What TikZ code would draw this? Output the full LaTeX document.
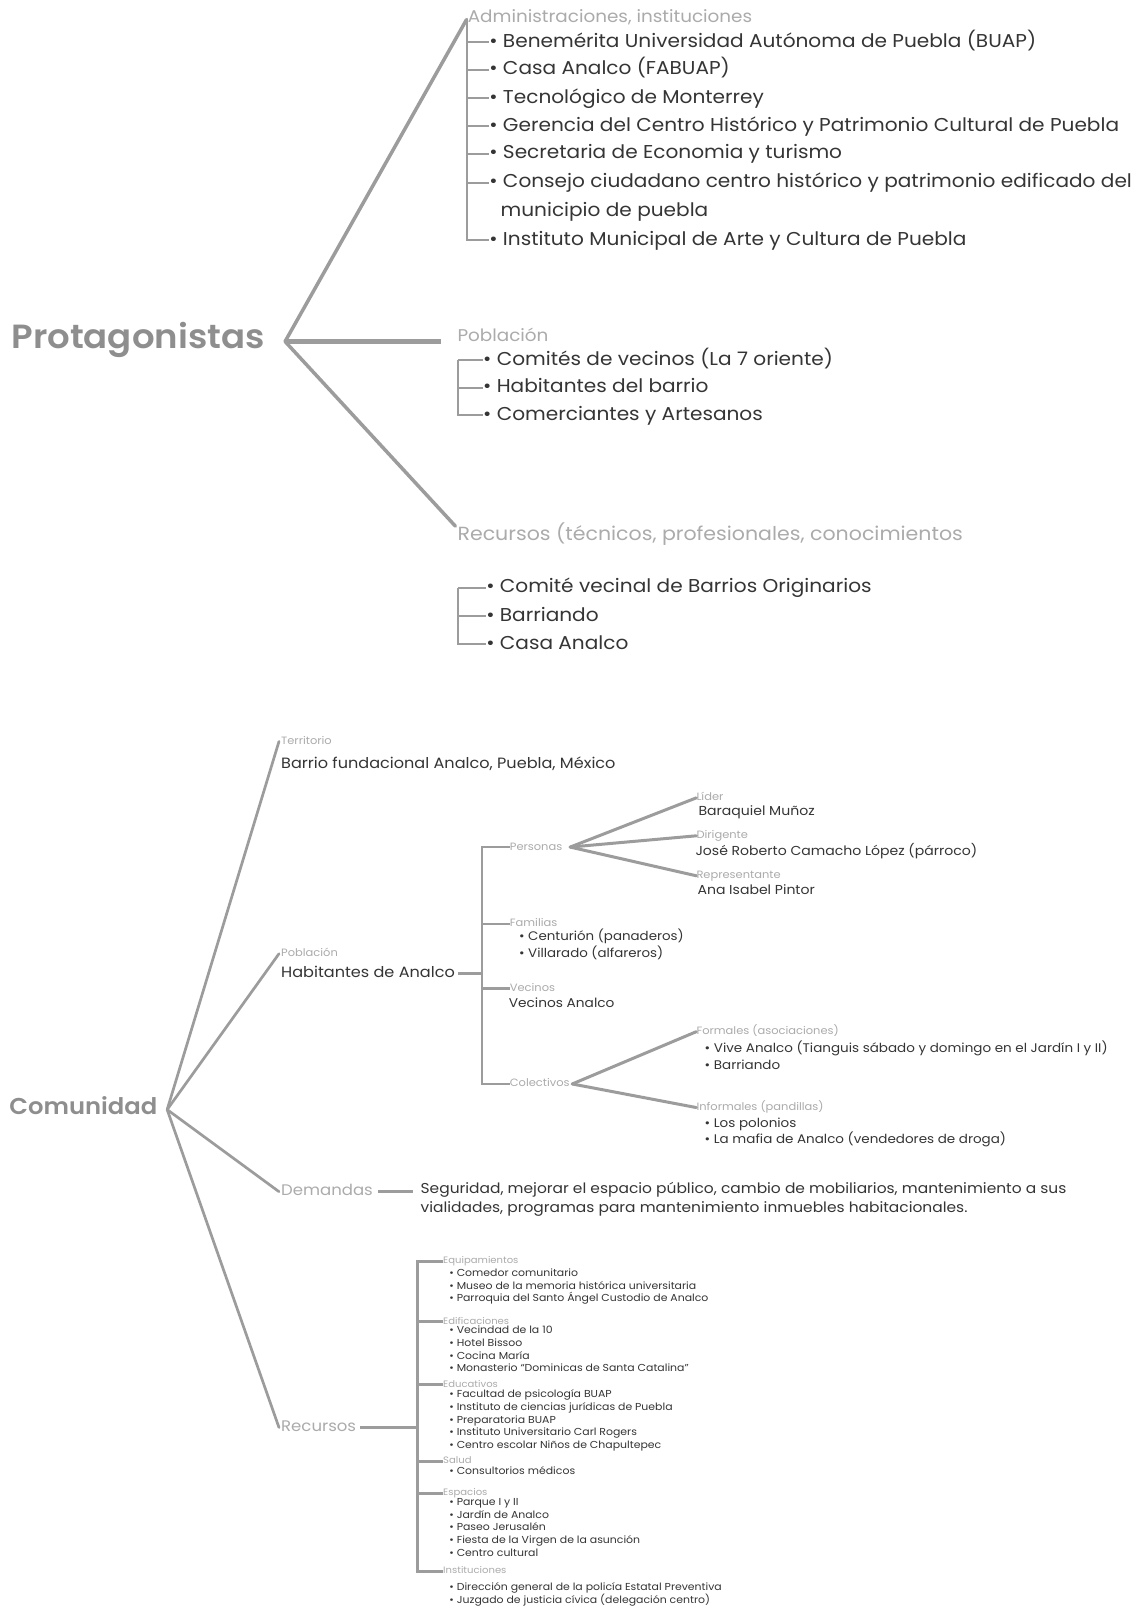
\documentclass[tikz,border=0pt]{standalone}
\usepackage{fontspec}
\setmainfont{Poppins}[FakeStretch=1.08]
\newfontfamily\titlefont{Poppins SemiBold}[FakeStretch=1.06]
\definecolor{itemc}{HTML}{353535}
\definecolor{labc}{HTML}{ABABAB}
\definecolor{titc}{HTML}{8E8E8E}
\definecolor{linec}{HTML}{9C9C9C}
\begin{document}
\begin{tikzpicture}[x=1.0253pt,y=-1.0253pt,
  base/.style={anchor=west,inner sep=0pt},
  ttl/.style={base,text=titc,font=\titlefont\fontsize{33.5}{38}\selectfont,text height=25pt,text depth=6.7pt},
  ttlB/.style={base,text=titc,font=\titlefont\fontsize{22.9}{27}\selectfont,text height=17pt,text depth=4.5pt},
  itemT/.style={base,text=itemc,font=\fontsize{18.6}{22}\selectfont,text height=14pt,text depth=3.7pt},
  labT/.style={base,text=labc,font=\fontsize{17}{20}\selectfont,text height=12.75pt,text depth=3.4pt},
  recT/.style={base,text=labc,font=\fontsize{19}{22}\selectfont,text height=14.25pt,text depth=3.8pt},
  midT/.style={base,text=itemc,font=\fontsize{14.9}{17}\selectfont,text height=11.1pt,text depth=3pt},
  nameT/.style={base,text=itemc,font=\fontsize{13}{15}\selectfont,text height=9.75pt,text depth=2.6pt},
  tinyL/.style={base,text=labc,font=\fontsize{10.6}{12}\selectfont,text height=7.95pt,text depth=2.1pt},
  subL/.style={base,text=labc,font=\fontsize{10.6}{12}\selectfont,text height=7.95pt,text depth=2.1pt},
  catL/.style={base,text=labc,font=\fontsize{9.3}{11}\selectfont,text height=7pt,text depth=1.9pt},
  sideL/.style={base,text=labc,font=\fontsize{15.3}{18}\selectfont,text height=11.5pt,text depth=3.1pt},
  listA/.style={anchor=north west,inner sep=0pt,align=left,text=itemc,font=\fontsize{12.4}{16.8}\selectfont},
  listB/.style={anchor=north west,inner sep=0pt,align=left,text=itemc,font=\fontsize{12.5}{16.4}\selectfont},
  listC/.style={anchor=north west,inner sep=0pt,align=left,text=itemc,font=\fontsize{10.1}{12.7}\selectfont},
  demT/.style={anchor=north west,inner sep=0pt,align=left,text=itemc,font=\fontsize{14.3}{18.5}\selectfont},
  bigline/.style={draw=linec,line width=3.5pt,line cap=round},
  popline/.style={draw=linec,line width=5pt},
  brk/.style={draw=linec,line width=2pt},
  comline/.style={draw=linec,line width=2.7pt,line cap=round},
  subline/.style={draw=linec,line width=3pt,line cap=round},
  brk2/.style={draw=linec,line width=2.6pt},
  brk3/.style={draw=linec,line width=3pt}
]
\useasboundingbox (0,0) rectangle (1107,1568);
\fill[white] (0,0) rectangle (1107,1568);

%================ PROTAGONISTAS =================
\node[ttl] (prot) at (11,331) {Protagonistas};
\coordinate (hubP) at (278,333);
\node[labT] (adm) at (456,17) {Administraciones, instituciones};
\coordinate (admc) at (455,19);
\node[itemT] (a1) at (477,41) {\textbullet\ Benemérita Universidad Autónoma de Puebla (BUAP)};
\node[itemT] (a2) at (477,68) {\textbullet\ Casa Analco (FABUAP)};
\node[itemT] (a3) at (477,96) {\textbullet\ Tecnológico de Monterrey};
\node[itemT] (a4) at (477,123) {\textbullet\ Gerencia del Centro Histórico y Patrimonio Cultural de Puebla};
\node[itemT] (a5) at (477,150) {\textbullet\ Secretaria de Economia y turismo};
\node[itemT] (a6) at (477,178) {\textbullet\ Consejo ciudadano centro histórico y patrimonio edificado del};
\node[itemT] (a6b) at (488,206) {municipio de puebla};
\node[itemT] (a7) at (477,234) {\textbullet\ Instituto Municipal de Arte y Cultura de Puebla};
\draw[bigline] (hubP) -- (admc);
\draw[brk] (admc) |- (a7.west);
\foreach \n in {a1,a2,a3,a4,a5,a6} \draw[brk] (admc |- \n.west) -- (\n.west);

\node[labT] (pobl) at (446,328) {Población};
\draw[popline] (hubP) -- ([xshift=-16pt]pobl.west |- hubP);
\coordinate (pbk) at (447,351);
\node[itemT] (p1) at (471,351) {\textbullet\ Comités de vecinos (La 7 oriente)};
\node[itemT] (p2) at (471,378) {\textbullet\ Habitantes del barrio};
\node[itemT] (p3) at (471,405) {\textbullet\ Comerciantes y Artesanos};
\draw[brk] (pbk) |- (p3.west);
\foreach \n in {p1,p2} \draw[brk] (pbk |- \n.west) -- (\n.west);

\node[recT] (recl) at (446,522) {Recursos (técnicos, profesionales, conocimientos};
\coordinate (recc) at (444,513);
\draw[bigline] (hubP) -- (recc);
\coordinate (rbk) at (447,573);
\node[itemT] (r1) at (474,573) {\textbullet\ Comité vecinal de Barrios Originarios};
\node[itemT] (r2) at (474,601) {\textbullet\ Barriando};
\node[itemT] (r3) at (474,628) {\textbullet\ Casa Analco};
\draw[brk] (rbk) |- (r3.west);
\foreach \n in {r1,r2} \draw[brk] (rbk |- \n.west) -- (\n.west);

%================ COMUNIDAD =================
\node[ttlB] (com) at (9,1081) {Comunidad};
\coordinate (hubC) at (163,1082);

% Territorio
\node[tinyL] (terl) at (274,723) {Territorio};
\node[midT] (ter) at (274,745) {Barrio fundacional Analco, Puebla, México};
\draw[comline] (hubC) -- ([xshift=-2pt]terl.west);

% Poblacion
\node[tinyL] (cpl) at (274,930) {Población};
\node[midT] (hab) at (274,949) {Habitantes de Analco};
\draw[comline] (hubC) -- ([xshift=-2pt]cpl.west);
\coordinate (cbk) at (470,826);
\draw[brk2] ([xshift=3pt]hab.east) -- (cbk |- hab.east);

\node[subL] (pers) at (497,826) {Personas};
\node[subL] (fam) at (497,901) {Familias};
\node[subL] (vec) at (497,964) {Vecinos};
\node[subL] (col) at (497,1057) {Colectivos};
\draw[brk2] (pers.west) -| (cbk) |- (col.west);
\draw[brk2] (cbk |- fam.west) -- (fam.west);
\draw[brk2] (cbk |- vec.west) -- (vec.west);

% Personas
\coordinate (hubPe) at (556,826);
\node[subL] (lid) at (679,778) {Líder};
\node[nameT] (lidn) at (681,792) {Baraquiel Muñoz};
\node[subL] (dir) at (679,815) {Dirigente};
\node[nameT] (dirn) at (678,831) {José Roberto Camacho López (párroco)};
\node[subL] (rep) at (679,854) {Representante};
\node[nameT] (repn) at (680,869) {Ana Isabel Pintor};
\draw[subline] (hubPe) -- (lid.west);
\draw[subline] (hubPe) -- (dir.west);
\draw[subline] (hubPe) -- (rep.west);

% Familias
\node[listA] (famI) at (506,906) {\textbullet\ Centurión (panaderos)\\\textbullet\ Villarado (alfareros)};
\node[midT,font=\fontsize{12.7}{15}\selectfont] (vecI) at (496,978) {Vecinos Analco};

% Colectivos
\coordinate (hubCo) at (558,1057);
\node[subL] (form) at (679,1006) {Formales (asociaciones)};
\node[listB] (formI) at (687,1015) {\textbullet\ Vive Analco (Tianguis sábado y domingo en el Jardín I y II)\\\textbullet\ Barriando};
\node[subL] (inf) at (679,1080) {Informales (pandillas)};
\node[listB] (infI) at (687,1090) {\textbullet\ Los polonios\\\textbullet\ La mafia de Analco (vendedores de droga)};
\draw[subline] (hubCo) -- (form.west);
\draw[subline] (hubCo) -- (inf.west);

% Demandas
\node[sideL] (deml) at (274,1162) {Demandas};
\draw[comline] (hubC) -- ([xshift=-2pt]deml.west);
\node[demT] (demt) at (410,1153) {Seguridad, mejorar el espacio público, cambio de mobiliarios, mantenimiento a sus\\vialidades, programas para mantenimiento inmuebles habitacionales.};
\draw[brk2] ([xshift=5pt]deml.east) -- ([xshift=-7pt]demt.west |- deml.east);

% Recursos
\node[sideL] (resl) at (274,1392) {Recursos};
\draw[comline] (hubC) -- ([xshift=-2pt]resl.west);
\coordinate (kbk) at (407,1230);
\draw[brk3] ([xshift=4pt]resl.east) -- (kbk |- resl.east);

\node[catL] (k1) at (432,1230) {Equipamientos};
\node[listC] (k1I) at (438,1237) {\textbullet\ Comedor comunitario\\\textbullet\ Museo de la memoria histórica universitaria\\\textbullet\ Parroquia del Santo Ángel Custodio de Analco};
\node[catL] (k2) at (432,1289) {Edificaciones};
\node[listC] (k2I) at (438,1293) {\textbullet\ Vecindad de la 10\\\textbullet\ Hotel Bissoo\\\textbullet\ Cocina María\\\textbullet\ Monasterio ``Dominicas de Santa Catalina''};
\node[catL] (k3) at (432,1350) {Educativos};
\node[listC] (k3I) at (438,1355) {\textbullet\ Facultad de psicología BUAP\\\textbullet\ Instituto de ciencias jurídicas de Puebla\\\textbullet\ Preparatoria BUAP\\\textbullet\ Instituto Universitario Carl Rogers\\\textbullet\ Centro escolar Niños de Chapultepec};
\node[catL] (k4) at (432,1425) {Salud};
\node[listC] (k4I) at (438,1430) {\textbullet\ Consultorios médicos};
\node[catL] (k5) at (432,1456) {Espacios};
\node[listC] (k5I) at (438,1461) {\textbullet\ Parque I y II\\\textbullet\ Jardín de Analco\\\textbullet\ Paseo Jerusalén\\\textbullet\ Fiesta de la Virgen de la asunción\\\textbullet\ Centro cultural};
\node[catL] (k6) at (432,1532) {Instituciones};
\node[listC] (k6I) at (438,1543) {\textbullet\ Dirección general de la policía Estatal Preventiva\\\textbullet\ Juzgado de justicia cívica (delegación centro)};
\draw[brk3] (k1.west) -| (kbk) |- (k6.west);
\foreach \n in {k2,k3,k4,k5} \draw[brk3] (kbk |- \n.west) -- (\n.west);
\end{tikzpicture}
\end{document}
